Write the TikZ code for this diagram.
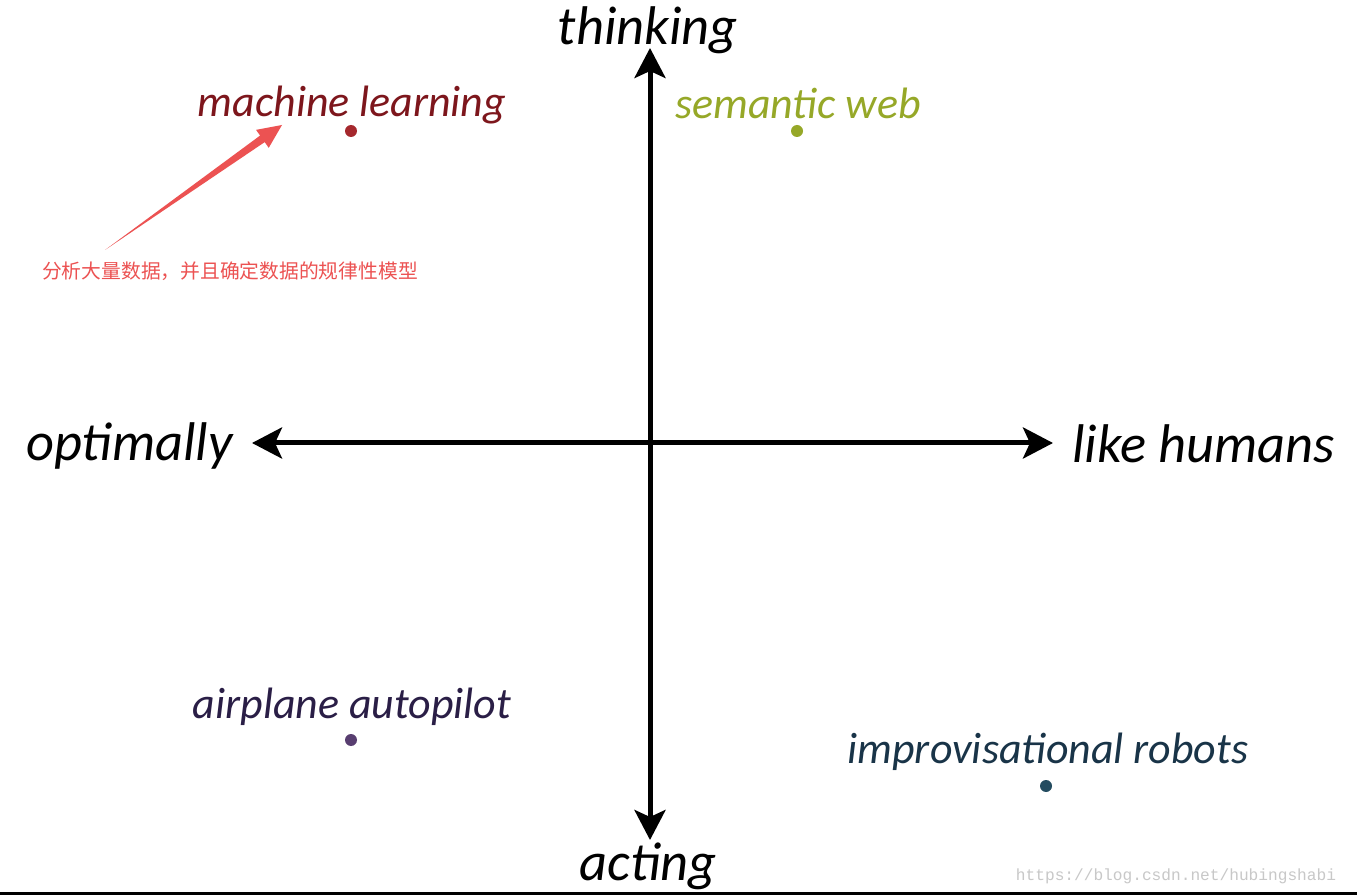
\documentclass[tikz,border=0pt]{standalone}
\usepackage{fontspec}
\setmainfont{Carlito}
\setmonofont{Liberation Mono}
\newfontfamily\cjk{Noto Sans CJK SC}
\usepackage{xcolor}
\usepackage{tikz}
\usetikzlibrary{positioning, arrows.meta, calc}
\definecolor{mlred}{RGB}{125,22,28}
\definecolor{mldot}{RGB}{165,40,45}
\definecolor{webgreen}{RGB}{150,168,40}
\definecolor{pilotpurple}{RGB}{42,30,70}
\definecolor{pilotdot}{RGB}{88,62,112}
\definecolor{robotteal}{RGB}{25,52,72}
\definecolor{robotdot}{RGB}{36,76,96}
\definecolor{notered}{RGB}{236,82,82}
\definecolor{markgray}{RGB}{200,200,200}
\definecolor{baseline}{RGB}{92,82,74}

\begin{document}
\begin{tikzpicture}[x=0.02cm, y=-0.02cm,
    axis/.style={line width=0.1cm, {Stealth[length=0.6cm, width=0.62cm, inset=0.14cm]}-{Stealth[length=0.6cm, width=0.62cm, inset=0.14cm]}},
    axislabel/.style={font=\fontsize{31}{36}\selectfont\itshape, inner sep=0pt},
    field/.style={font=\fontsize{25}{30}\selectfont\itshape, inner sep=0pt},
    dot/.style={circle, inner sep=0pt, minimum size=0.24cm}
]
\useasboundingbox (0,0) rectangle (1357,895);
\fill[white] (0,0) rectangle (1357,895);

% axes
\coordinate (up) at (650,48);
\coordinate (down) at (650,840);
\coordinate (left) at (252,443);
\coordinate (right) at (1053,443);
\draw[axis] (down) -- (up);
\draw[axis] (left) -- (right);

\node[axislabel] (thinking) at (648,30) {thinking};
\node[axislabel] (acting) at (648,866) {acting};
\node[axislabel, anchor=east] (optimally) at (233,446) {optimally};
\node[axislabel, anchor=west] (humans) at (1072,444) {like humans};

% quadrant examples
\node[dot, fill=mldot] (mldot) at (351,131) {};
\node[field, text=mlred] (ml) at (352,105) {machine learning};

\node[dot, fill=webgreen] (webdot) at (797,131) {};
\node[field, text=webgreen] (web) at (798,103) {semantic web};

\node[dot, fill=pilotdot] (pilotdot) at (351,740) {};
\node[field, text=pilotpurple] (pilot) at (352,707) {airplane autopilot};

\node[dot, fill=robotdot] (robotdot) at (1046,786) {};
\node[field, text=robotteal] (robot) at (1048,752) {improvisational robots};

% note with tapered arrow
\node[font=\cjk\fontsize{11.25}{13}\selectfont, text=notered, inner sep=0pt] (note) at (230,271) {分析大量数据，并且确定数据的规律性模型};
\coordinate (notetail) at (105,250);
\coordinate (notehead) at (282,125);
\coordinate (neck) at ($(notehead)!0.48cm!(notetail)$);
\fill[notered] (notetail)
    -- ($(neck)!0.08cm!90:(notehead)$) -- ($(neck)!0.22cm!90:(notehead)$)
    -- (notehead)
    -- ($(neck)!0.22cm!-90:(notehead)$) -- ($(neck)!0.08cm!-90:(notehead)$)
    -- cycle;

% watermark
\node[font=\ttfamily\fontsize{9.2}{11}\selectfont, text=markgray, inner sep=0pt] (mark) at (1176,876) {https://blog.csdn.net/hubingshabi};
\draw[baseline, line width=0.06cm] (0,893.5) -- (1357,893.5);
\end{tikzpicture}
\end{document}
